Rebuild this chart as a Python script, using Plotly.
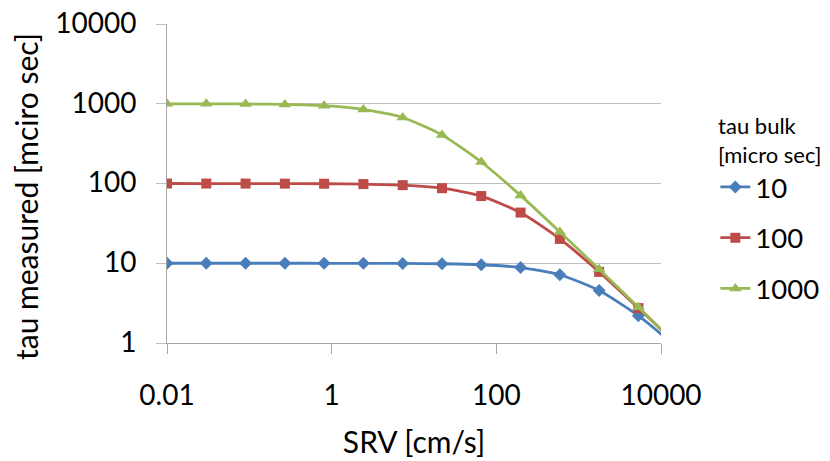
import plotly.graph_objects as go

srv = [0.01, 0.03, 0.09, 0.27, 0.81, 2.43, 7.29, 21.87, 65.61, 196.83, 590.49, 1771.47, 5314.41, 15943.23]
tau_10 = [10, 10, 10, 10, 9.99, 9.98, 9.95, 9.85, 9.58, 8.84, 7.17, 4.55, 2.2, 0.86]
tau_100 = [99.98, 99.9, 99.8, 99.6, 99.3, 98.4, 95.4, 87.3, 69.6, 43.2, 20.2, 7.8, 2.74, 0.93]
tau_1000 = [999, 998, 994, 982, 945, 850, 673, 407, 186, 70.9, 24.7, 8.4, 2.8, 0.94]
series_names = ["10", "100", "1000"]
x_ticks = [0.01, 1, 100, 10000]
x_ticktext = ["0.01", "1", "100", "10000"]
y_ticks = [1, 10, 100, 1000, 10000]
y_ticktext = ["1", "10", "100", "1000", "10000"]

colors = ["#4A7EBB", "#BE4B48", "#98B954"]
symbols = ["diamond", "square", "triangle-up"]
sizes = [10, 10, 11]

fig = go.Figure()
for name, ys, c, s, sz in zip(series_names, [tau_10, tau_100, tau_1000], colors, symbols, sizes):
    fig.add_trace(go.Scatter(
        x=srv, y=ys, name=name, mode="lines+markers", legendgroup=name,
        line=dict(color=c, width=2.8, shape="spline", smoothing=0.6),
        marker=dict(symbol=s, size=sz, color=c),
    ))

font_family = "Lato, Open Sans, sans-serif"
fig.update_layout(
    width=830, height=461,
    margin=dict(l=166.5, r=169, t=23.5, b=118, autoexpand=False),
    paper_bgcolor="white", plot_bgcolor="white",
    font=dict(family=font_family, color="#000000", size=28),
    showlegend=True,
    legend=dict(
        title=dict(text="tau bulk<br>[micro sec]", font=dict(size=22), side="top center"),
        font=dict(size=27.5),
        x=1.11, xanchor="left", y=0.745, yanchor="top",
        tracegroupgap=12, bgcolor="rgba(0,0,0,0)",
    ),
    xaxis=dict(
        type="log", range=[-2, 4], tickvals=x_ticks, ticktext=x_ticktext,
        showgrid=False, zeroline=False, showline=True, linecolor="#A6A6A6", linewidth=1,
        ticks="outside", ticklen=10, tickcolor="#A6A6A6", tickfont=dict(size=28),
        ticklabelstandoff=17, automargin=False, ticklabeloverflow="allow",
        title=dict(text="SRV [cm/s]", font=dict(size=30), standoff=22),
    ),
    yaxis=dict(
        type="log", range=[0, 4], tickvals=y_ticks, ticktext=y_ticktext,
        showgrid=True, gridcolor="#BFBFBF", gridwidth=1, zeroline=False,
        showline=True, linecolor="#A6A6A6", linewidth=1,
        ticks="outside", ticklen=10, tickcolor="#BFBFBF", tickfont=dict(size=28),
        ticklabelstandoff=14, ticklabelshift=-1, automargin=False, ticklabeloverflow="allow",
    ),
    annotations=[dict(
        text="tau measured [mciro sec]", textangle=-90, font=dict(size=30),
        xref="paper", yref="paper", x=-0.284, y=0.46,
        xanchor="center", yanchor="middle", showarrow=False,
    )],
)

fig.write_html(
    "out.html",
    config={"displayModeBar": False},
    post_script="document.body.style.margin='0';document.body.style.overflow='hidden';",
)
